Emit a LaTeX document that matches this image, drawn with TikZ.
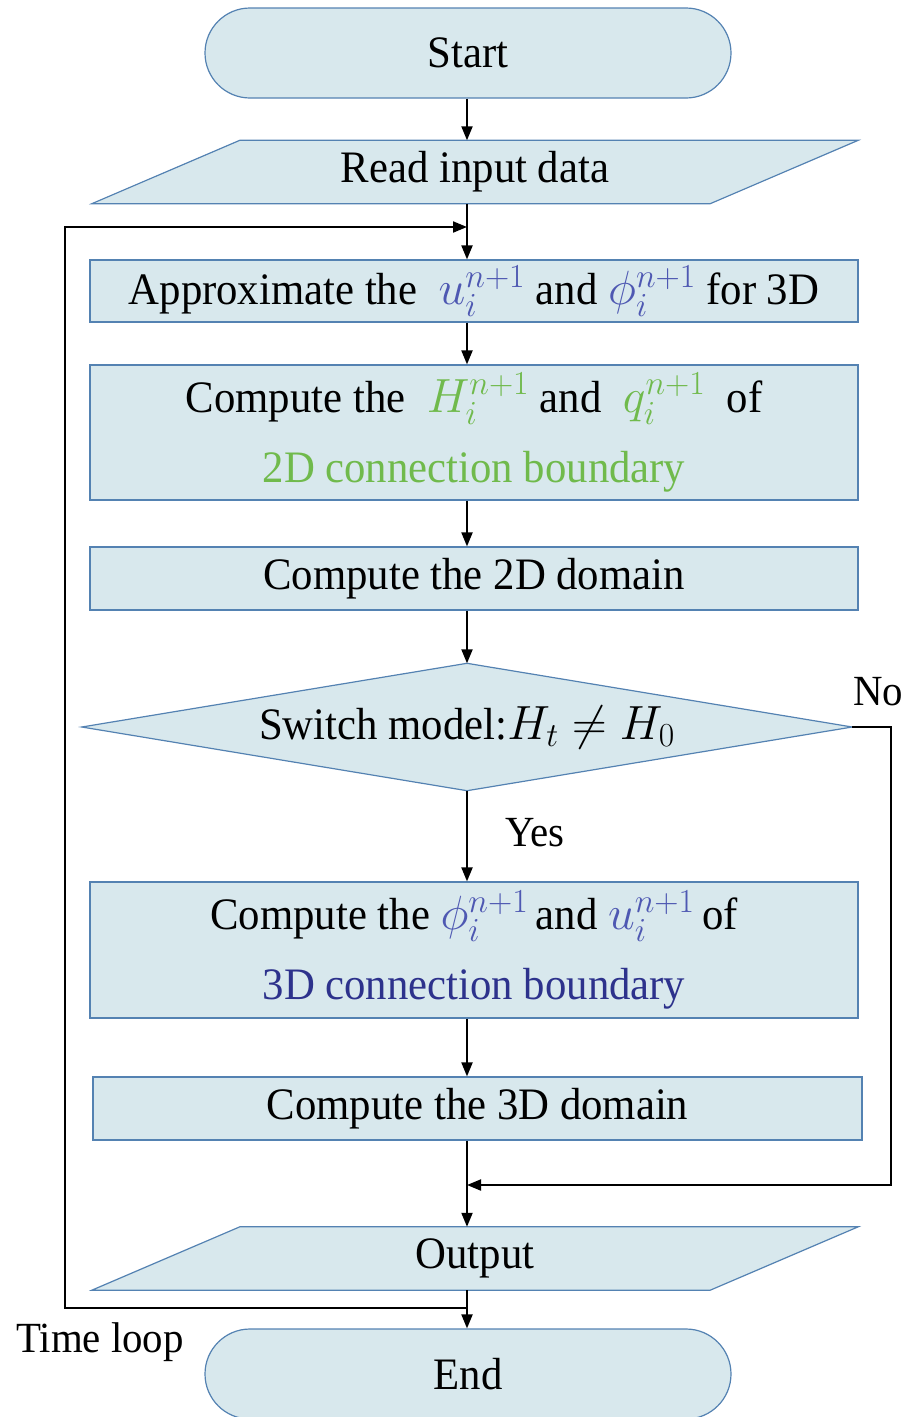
\RequirePackage{fix-cm}
\documentclass[tikz,border=0pt]{standalone}
\usepackage{fontspec}
\setmainfont{Liberation Serif}[FakeStretch=0.95]
\newfontfamily\labelfont{Liberation Serif}[FakeStretch=0.95]
\usetikzlibrary{shapes.misc,arrows.meta,backgrounds}

\definecolor{boxfill}{RGB}{216,232,237}
\definecolor{boxdraw}{RGB}{84,130,178}
\definecolor{mblue}{RGB}{78,88,178}
\definecolor{dblue}{RGB}{45,50,140}
\definecolor{mgreen}{RGB}{112,186,76}

% math set a little larger than the surrounding text
\newcommand{\bigmath}[1]{{\fontsize{48}{50}\selectfont$#1$}}

\tikzset{
  base/.style={font=\labelfont\fontsize{45}{52}\selectfont, text=black, align=center, inner sep=0pt},
  procbox/.style={base, rectangle, draw=boxdraw, fill=boxfill, line width=1.2pt,
    minimum width=768pt},
  terminal/.style={base, rounded rectangle, draw=boxdraw, fill=boxfill, line width=1.2pt,
    minimum width=526pt, minimum height=90pt},
  iobox/.style={base, rectangle, minimum width=618pt, minimum height=63pt},
  iofill/.style={draw=boxdraw, fill=boxfill, line width=1.2pt},
  link/.style={draw=black, line width=2pt},
  arrow/.style={link, -{Triangle[length=14pt,width=11pt]}},
  tag/.style={font=\labelfont\fontsize{43}{50}\selectfont, inner sep=0pt},
}

\begin{document}
\begin{tikzpicture}[x=1pt,y=-1pt]
\useasboundingbox (0,0) rectangle (907,1417);

% terminals, inputs/outputs and process steps
\node[terminal] (start) at (468,53) {Start};
\node[iobox] (read) at (475,172) {Read input data};
\node[procbox, minimum height=62pt] (approx) at (474,291)
  {Approximate the \ \textcolor{mblue}{\bigmath{u_i^{n+1}}} and \textcolor{mblue}{\bigmath{\phi_i^{n+1}}} for 3D};
\node[procbox, minimum height=135pt] (bnd2) at (474,432.5)
  {Compute the \ \textcolor{mgreen}{\bigmath{H_i^{n+1}}} and \ \textcolor{mgreen}{\bigmath{q_i^{n+1}}} \ of\\[18pt]
   \textcolor{mgreen}{2D connection boundary}};
\node[procbox, minimum height=63pt] (dom2) at (474,578.5) {Compute the 2D domain};
\node[base, rectangle, minimum width=770pt, minimum height=127pt] (switch) at (467,727)
  {Switch model:\bigmath{H_t \neq H_0}};
\node[procbox, minimum height=136pt] (bnd3) at (474,950)
  {Compute the \textcolor{mblue}{\bigmath{\phi_i^{n+1}}}\,and \textcolor{mblue}{\bigmath{u_i^{n+1}}}\,of\\[18pt]
   \textcolor{dblue}{3D connection boundary}};
\node[procbox, minimum width=769pt, minimum height=63pt] (dom3) at (477.5,1108.5) {Compute the 3D domain};
\node[iobox] (out) at (475,1258.5) {Output};
\node[terminal] (stop) at (468,1374) {End};

% shapes drawn behind the text of their nodes
\begin{scope}[on background layer]
  \path[iofill] ([xshift=-74pt]read.south west) -- ([xshift=74pt]read.north west)
    -- ([xshift=74pt]read.north east) -- ([xshift=-74pt]read.south east) -- cycle;
  \path[iofill] ([xshift=-74pt]out.south west) -- ([xshift=74pt]out.north west)
    -- ([xshift=74pt]out.north east) -- ([xshift=-74pt]out.south east) -- cycle;
  \path[iofill] (switch.west) -- (switch.north) -- (switch.east) -- (switch.south) -- cycle;
\end{scope}

% junction points of the loops
\coordinate (col) at (467,0);
\coordinate (loopin) at (467,227);
\coordinate (loopout) at (467,1308);
\coordinate (loopleft) at (65,1308);
\coordinate (looptop) at (65,227);
\coordinate (noright) at (891,727);
\coordinate (nobottom) at (891,1185);
\coordinate (nojoin) at (467,1185);

% main flow
\draw[arrow] (start.south -| col) -- (read.north -| col);
\draw[arrow] (read.south -| col) -- (approx.north -| col);
\draw[arrow] (approx.south -| col) -- (bnd2.north -| col);
\draw[arrow] (bnd2.south -| col) -- (dom2.north -| col);
\draw[arrow] (dom2.south -| col) -- (switch.north);
\draw[arrow] (switch.south) -- (bnd3.north -| col);
\draw[arrow] (bnd3.south -| col) -- (dom3.north -| col);
\draw[arrow] (dom3.south -| col) -- (out.north -| col);
\draw[arrow] (out.south -| col) -- (stop.north -| col);

% "No" branch and time loop
\draw[arrow] (switch.east) -- (noright) -- (nobottom) -- (nojoin);
\draw[arrow] (loopout) -- (loopleft) -- (looptop) -- (loopin);

% labels
\node[tag] (nolabel) at (878,692) {No};
\node[tag] (yeslabel) at (535,833) {Yes};
\node[tag] (looplabel) at (100,1342) {Time loop};
\end{tikzpicture}
\end{document}
